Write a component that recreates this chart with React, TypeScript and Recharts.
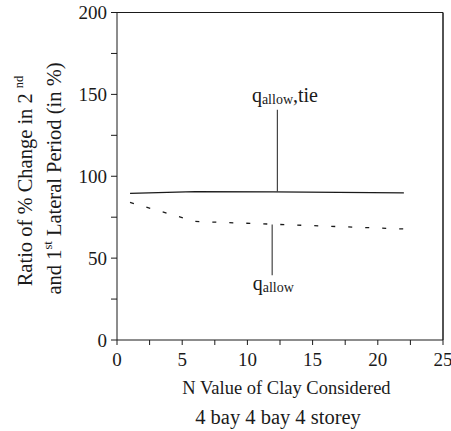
import React from 'react';
import {
  LineChart,
  Line,
  XAxis,
  YAxis,
  ReferenceLine,
  ReferenceDot,
} from 'recharts';

// N value of clay (x) and the two period-ratio series
const nValues = [1, 6, 12, 22];
const qAllowTie = [89.6, 90.6, 90.4, 89.9];
const qAllow = [84, 72.4, 70.7, 67.8];

const xTicks = [0, 2.5, 5, 7.5, 10, 12.5, 15, 17.5, 20, 22.5, 25];
const yTicks = [0, 25, 50, 75, 100, 125, 150, 175, 200];

// leader lines pointing from the labels to each curve
const tieLeader = { x: 12.3, from: 90.4, to: 140.6 };
const allowLeader = { x: 11.9, from: 70.6, to: 39.5 };

const data = nValues.map((n, i) => ({ n, tie: qAllowTie[i], allow: qAllow[i] }));

const FONT = 'Liberation Serif, Times New Roman, serif';
const INK = '#1a1a1a';

const TieLabel = (props: any) => {
  const { x, y } = props.viewBox;
  return (
    <text x={x - 25.5} y={y - 8} fontFamily={FONT} fill={INK} fontSize={20}>
      <tspan>q</tspan>
      <tspan fontSize={14} dy={2}>allow</tspan>
      <tspan dy={-2}>,tie</tspan>
    </text>
  );
};

const AllowLabel = (props: any) => {
  const { x, y } = props.viewBox;
  return (
    <text x={x - 19.5} y={y + 15} fontFamily={FONT} fill={INK} fontSize={20}>
      <tspan>q</tspan>
      <tspan fontSize={14} dy={2}>allow</tspan>
    </text>
  );
};

const XTitle = () => (
  <g fontFamily={FONT} fill={INK}>
    <text x={286.5} y={394} textAnchor="middle" fontSize={18.5}>
      N Value of Clay Considered
    </text>
    <text x={278} y={423.5} textAnchor="middle" fontSize={20.5}>
      4 bay 4 bay 4 storey
    </text>
  </g>
);

const YTitle = () => (
  <g fontFamily={FONT} fill={INK} fontSize={20.5}>
    <text transform="translate(32,181) rotate(-90)" textAnchor="middle">
      <tspan>Ratio of % Change in 2 </tspan>
      <tspan fontSize={12.5} dy={-9}>nd</tspan>
    </text>
    <text transform="translate(61,178.5) rotate(-90)" textAnchor="middle">
      <tspan>and 1</tspan>
      <tspan fontSize={12.5} dy={-9}>st</tspan>
      <tspan dy={9}> Lateral Period (in %)</tspan>
    </text>
  </g>
);

export default function App() {
  return (
    <div style={{ position: 'absolute', left: 0, top: 0, fontFamily: FONT }}>
      <LineChart
        width={451}
        height={431}
        data={data}
        margin={{ top: 12.5, right: 8, left: 0, bottom: 0 }}
        style={{ fontFamily: FONT }}
      >
        <XAxis
          dataKey="n"
          type="number"
          domain={[0, 25]}
          ticks={xTicks}
          interval={0}
          tickFormatter={(v: number) => (v % 5 === 0 ? String(v) : '')}
          tickSize={5}
          tickMargin={8}
          height={91}
          stroke={INK}
          tick={{ fill: INK, fontSize: 19, fontFamily: FONT }}
          label={{ content: XTitle }}
        />
        <YAxis
          type="number"
          domain={[0, 200]}
          ticks={yTicks}
          interval={0}
          tickFormatter={(v: number) => (v % 50 === 0 ? String(v) : '')}
          tickSize={6}
          tickMargin={4}
          width={117}
          stroke={INK}
          tick={{ fill: INK, fontSize: 19, fontFamily: FONT }}
          label={{ content: YTitle }}
        />
        {/* frame: top and right edges */}
        <ReferenceLine y={200} stroke={INK} strokeWidth={1} />
        <ReferenceLine x={25} stroke={INK} strokeWidth={1.5} />

        <Line
          dataKey="tie"
          stroke={INK}
          strokeWidth={1.3}
          dot={false}
          isAnimationActive={false}
        />
        <Line
          dataKey="allow"
          stroke={INK}
          strokeWidth={1.3}
          strokeDasharray="4 13"
          dot={false}
          isAnimationActive={false}
        />

        <ReferenceLine
          segment={[
            { x: tieLeader.x, y: tieLeader.from },
            { x: tieLeader.x, y: tieLeader.to },
          ]}
          stroke="#444"
          strokeWidth={1.2}
        />
        <ReferenceLine
          segment={[
            { x: allowLeader.x, y: allowLeader.from },
            { x: allowLeader.x, y: allowLeader.to },
          ]}
          stroke="#444"
          strokeWidth={1.2}
        />
        <ReferenceDot
          x={tieLeader.x}
          y={tieLeader.to}
          r={0}
          fill="none"
          stroke="none"
          label={{ content: TieLabel }}
        />
        <ReferenceDot
          x={allowLeader.x}
          y={allowLeader.to}
          r={0}
          fill="none"
          stroke="none"
          label={{ content: AllowLabel }}
        />
      </LineChart>
    </div>
  );
}
